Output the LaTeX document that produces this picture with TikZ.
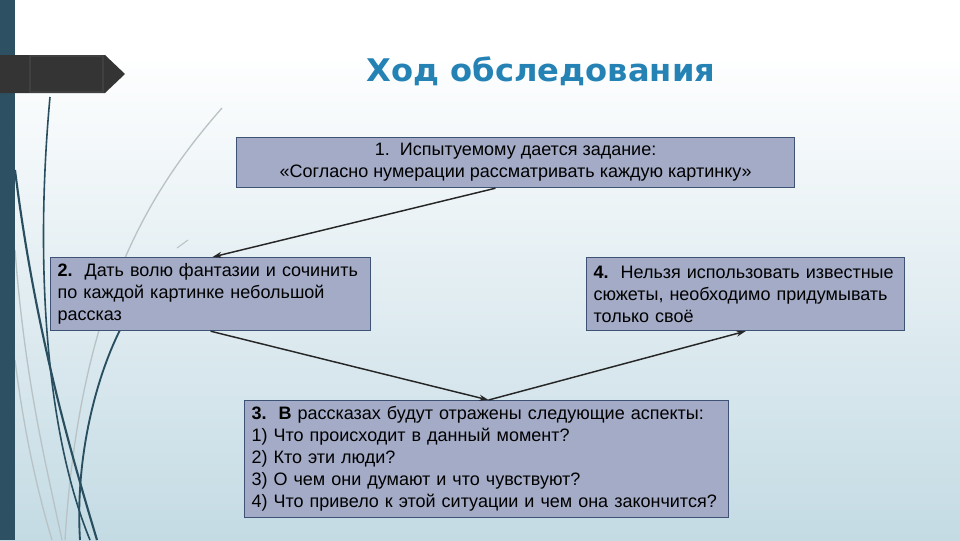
\documentclass[tikz,border=0pt]{standalone}
\usepackage{fontspec}
\setmainfont{Liberation Sans}
\newfontfamily\titlefont{DejaVu Sans}
\usetikzlibrary{arrows.meta,calc}
\definecolor{barteal}{RGB}{45,80,98}
\definecolor{bgblue}{RGB}{196,219,228}
\definecolor{boxfill}{RGB}{163,171,198}
\definecolor{boxline}{RGB}{62,82,118}
\definecolor{titleblue}{RGB}{36,130,180}
\definecolor{ribbon}{RGB}{52,52,52}
\definecolor{swoosh}{RGB}{40,78,96}
\definecolor{swooshgrey}{RGB}{185,195,198}
\tikzset{
  box/.style={draw=boxline, line width=0.9pt, fill=boxfill, inner xsep=5.25pt, inner ysep=0pt,
    font=\fontsize{13.5pt}{16.5pt}\selectfont, text=black},
  conn/.style={line width=1.1pt, draw=black!85, -{Stealth[length=7pt,width=4.5pt]}},
  dark/.style={draw=swoosh, line width=1.6pt},
  grey/.style={draw=swooshgrey, line width=1pt}
}
\begin{document}
\begin{tikzpicture}[x=0.75pt,y=-0.75pt]
\useasboundingbox (0,0) rectangle (960,540);
% background
\fill[white] (0,0) rectangle (960,62);
\shade[top color=white!97!bgblue, bottom color=bgblue] (0,62) rectangle (960,540);
% decorative swooshes
\draw[grey] (222,108) .. controls (150,190) and (80,300) .. (65,540);
\draw[grey] (15,250) .. controls (25,380) and (45,460) .. (62,540);
\draw[grey] (15,360) .. controls (25,440) and (40,500) .. (52,540);
\draw[grey, line width=0.8pt] (177,248) -- (188,240);
\draw[dark] (15,170) .. controls (35,330) and (70,450) .. (97,540);
\draw[dark, line width=1.2pt] (50,97) .. controls (35,260) and (45,430) .. (90,540);
\draw[dark, line width=1.4pt] (120,330) .. controls (95,380) and (75,460) .. (80,540);
% left bar
\fill[barteal] (0,0) rectangle (15,540);
% ribbon
\fill[ribbon] (0,55) -- (105,55) -- (125,74) -- (105,93) -- (0,93) -- cycle;
\draw[black!75, line width=0.8pt] (30,56) rectangle (103,92);
% title
\node[font=\titlefont\bfseries\fontsize{23.4pt}{26pt}\selectfont, text=titleblue, anchor=base]
  (title) at (541,81) {\scalebox{1.03}[1]{Ход обследования}};
% boxes
\node[box, anchor=north west, minimum width=558*0.75pt, minimum height=50*0.75pt, align=center]
  (b1) at (236,137) {1.\ \ Испытуемому дается задание:\\«Согласно нумерации рассматривать каждую картинку»};
\node[box, anchor=north west, minimum width=320*0.75pt, minimum height=73*0.75pt,
  text width=320*0.75pt-10.5pt, align=left]
  (b2) at (50,257) {\textbf{2.}\ \ Дать волю фантазии и сочинить\\по каждой картинке небольшой\\рассказ};
\node[box, anchor=north west, minimum width=318*0.75pt, minimum height=73*0.75pt,
  text width=318*0.75pt-10.5pt, align=left]
  (b4) at (586,257) {\textbf{4.}\ \ Нельзя использовать известные\\сюжеты, необходимо придумывать\\только своё};
\node[box, anchor=north west, minimum width=484*0.75pt, minimum height=117*0.75pt,
  text width=484*0.75pt-10.5pt, align=left]
  (b3) at (244,400) {\textbf{3.\ \ В} рассказах будут отражены следующие аспекты:\\1) Что происходит в данный момент?\\2) Кто эти люди?\\3) О чем они думают и что чувствуют?\\4) Что привело к этой ситуации и чем она закончится?};
% connectors
\draw[conn] ($(b1.south west)!0.464!(b1.south east)$) -- ($(b2.north west)!0.506!(b2.north east)$);
\draw[conn] (b2.south) -- ($(b3.north west)!0.504!(b3.north east)$);
\draw[conn] ($(b3.north west)!0.504!(b3.north east)$) -- (b4.south);
\end{tikzpicture}
\end{document}
